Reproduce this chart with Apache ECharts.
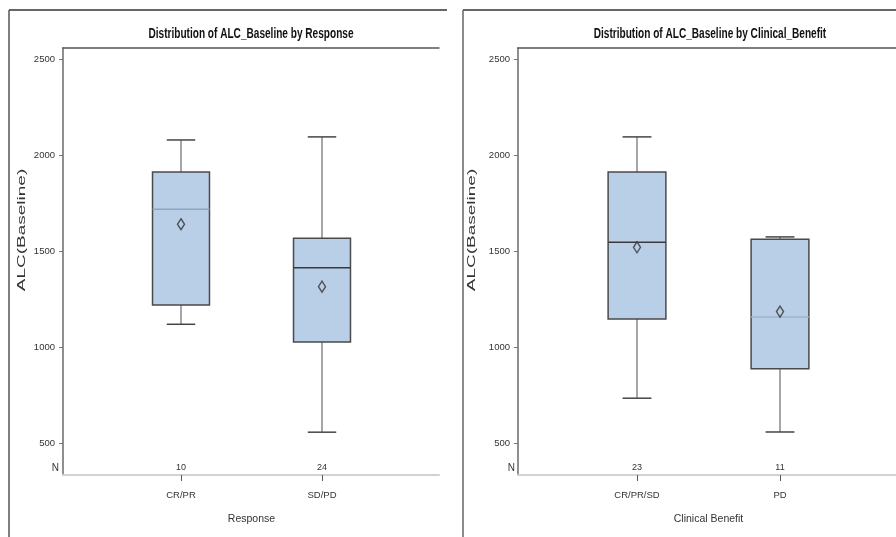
<!DOCTYPE html>
<html>
<head>
<meta charset="utf-8">
<script src="https://cdn.jsdelivr.net/npm/echarts@6/dist/echarts.min.js"></script>
<style>html,body{margin:0;padding:0;background:#fff}#c{width:896px;height:537px}</style>
</head>
<body>
<div id="c"></div>
<script>
// ---- data ----
const yTicks = [500, 1000, 1500, 2000, 2500];

const responseCats = ['CR/PR', 'SD/PD'];
const responseLow  = [1118, 556];
const responseQ1   = [1219, 1026];
const responseMed  = [1717, 1413];
const responseQ3   = [1911, 1566];
const responseHigh = [2078, 2094];
const responseMean = [1639, 1314];
const responseN    = [10, 24];

const benefitCats = ['CR/PR/SD', 'PD'];
const benefitLow  = [733, 557];
const benefitQ1   = [1146, 887];
const benefitMed  = [1545, 1156];
const benefitQ3   = [1911, 1561];
const benefitHigh = [2094, 1573];
const benefitMean = [1519, 1184];
const benefitN    = [23, 11];

// ---- styles ----
const SANS = "'Liberation Sans',Arial,sans-serif";
const YMIN = 333, YMAX = 2557;
const medianColorsResp = ['#8fa4c0', '#3a3a3a'];
const medianColorsBen  = ['#3a3a3a', '#9fb3cc'];

function boxData(low, q1, med, q3, high) {
  return low.map((v, i) => [i, v, q1[i], med[i], q3[i], high[i]]);
}
function makeRender(medColors) {
  return function (params, api) {
    const xi = api.value(0);
    const pLow = api.coord([xi, api.value(1)]);
    const pQ1 = api.coord([xi, api.value(2)]);
    const pMed = api.coord([xi, api.value(3)]);
    const pQ3 = api.coord([xi, api.value(4)]);
    const pHigh = api.coord([xi, api.value(5)]);
    const band = api.size([1, 0])[0];
    const hw = band * 0.202;
    const cx = pLow[0];
    const whisk = { stroke: '#8a8a8a', lineWidth: 1.5 };
    const cap = { stroke: '#454545', lineWidth: 1.5 };
    return {
      type: 'group',
      children: [
        { type: 'line', shape: { x1: cx, y1: pHigh[1], x2: cx, y2: pQ3[1] }, style: whisk },
        { type: 'line', shape: { x1: cx, y1: pQ1[1], x2: cx, y2: pLow[1] }, style: whisk },
        { type: 'line', shape: { x1: cx - hw / 2, y1: pHigh[1], x2: cx + hw / 2, y2: pHigh[1] }, style: cap },
        { type: 'line', shape: { x1: cx - hw / 2, y1: pLow[1], x2: cx + hw / 2, y2: pLow[1] }, style: cap },
        { type: 'rect', shape: { x: cx - hw, y: pQ3[1], width: 2 * hw, height: pQ1[1] - pQ3[1] },
          style: { fill: '#b9cfe8', stroke: '#4a4a4a', lineWidth: 1.5 } },
        { type: 'line', shape: { x1: cx - hw, y1: pMed[1], x2: cx + hw, y2: pMed[1] },
          style: { stroke: medColors[params.dataIndex], lineWidth: 1.5 } }
      ]
    };
  };
}

function frameAxes(gi) {
  return {
    x: [
      { gridIndex: gi, type: 'value', min: 0, max: 1, position: 'bottom',
        axisLine: { lineStyle: { color: '#d2d2d2', width: 2 } }, axisTick: { show: false },
        axisLabel: { show: false }, splitLine: { show: false } },
      { gridIndex: gi, type: 'value', min: 0, max: 1, position: 'top',
        axisLine: { lineStyle: { color: '#555', width: 1.5 } }, axisTick: { show: false },
        axisLabel: { show: false }, splitLine: { show: false } }
    ],
    y: [
      { gridIndex: gi, type: 'value', min: YMIN, max: YMAX, position: 'left',
        axisLine: { show: true, lineStyle: { color: '#888', width: 1.5 } },
        axisTick: { show: true, customValues: yTicks, length: 4, lineStyle: { color: '#777' } },
        axisLabel: { customValues: yTicks, margin: 8, fontFamily: SANS, fontSize: 9.5, color: '#333',
          formatter: (v) => String(v) },
        splitLine: { show: false } },
      { gridIndex: gi, type: 'value', min: YMIN, max: YMAX, position: 'right',
        axisLine: { show: true, lineStyle: { color: '#888', width: 1.5 } },
        axisTick: { show: false }, axisLabel: { show: false }, splitLine: { show: false } }
    ]
  };
}
function dataAxes(gi, cats, counts, name) {
  return {
    x: [
      { gridIndex: gi, type: 'category', data: cats, position: 'bottom',
        axisLine: { show: false },
        axisTick: { show: true, alignWithLabel: true, length: 6, lineStyle: { color: '#555' } },
        axisLabel: { margin: 15, fontFamily: SANS, fontSize: 9.5, color: '#333' },
        name: name, nameLocation: 'middle', nameGap: 39,
        nameTextStyle: { fontFamily: SANS, fontSize: 10.5, color: '#333' } },
      { gridIndex: gi, type: 'category', data: counts.map(String), position: 'bottom', offset: -12,
        axisLine: { show: false }, axisTick: { show: false },
        axisLabel: { margin: 0, fontFamily: SANS, fontSize: 9, color: '#333' } }
    ],
    y: [
      { gridIndex: gi, type: 'value', min: YMIN, max: YMAX, show: false }
    ]
  };
}

const fL = frameAxes(0), dL = dataAxes(1, responseCats, responseN, 'Response');
const fR = frameAxes(2), dR = dataAxes(3, benefitCats, benefitN, 'Clinical Benefit');

const meanStyle = { color: 'rgba(0,0,0,0)', borderColor: '#333', borderWidth: 1.5 };

const option = {
  animation: false,
  grid: [
    { left: 63, top: 48, width: 376, height: 427 },
    { left: 110.5, top: 48, width: 282, height: 427 },
    { left: 518, top: 48, width: 384, height: 427 },
    { left: 565.5, top: 48, width: 286, height: 427 }
  ],
  xAxis: [].concat(fL.x, dL.x, fR.x, dR.x),
  yAxis: [].concat(fL.y, dL.y, fR.y, dR.y),
  series: [
    { type: 'custom', xAxisIndex: 2, yAxisIndex: 2, renderItem: makeRender(medianColorsResp),
      encode: { x: 0, y: [1, 2, 3, 4, 5] },
      data: boxData(responseLow, responseQ1, responseMed, responseQ3, responseHigh) },
    { type: 'scatter', xAxisIndex: 2, yAxisIndex: 2, symbol: 'diamond', symbolSize: [7, 11],
      itemStyle: meanStyle, data: responseMean.map((v, i) => [i, v]) },
    { type: 'custom', xAxisIndex: 6, yAxisIndex: 5, renderItem: makeRender(medianColorsBen),
      encode: { x: 0, y: [1, 2, 3, 4, 5] },
      data: boxData(benefitLow, benefitQ1, benefitMed, benefitQ3, benefitHigh) },
    { type: 'scatter', xAxisIndex: 6, yAxisIndex: 5, symbol: 'diamond', symbolSize: [7, 11],
      itemStyle: meanStyle, data: benefitMean.map((v, i) => [i, v]) }
  ],
  graphic: [
    { type: 'line', shape: { x1: 9, y1: 10, x2: 447, y2: 10 }, style: { stroke: '#333', lineWidth: 1.5 } },
    { type: 'line', shape: { x1: 9, y1: 10, x2: 9, y2: 537 }, style: { stroke: '#555', lineWidth: 1.5 } },
    { type: 'line', shape: { x1: 463, y1: 10, x2: 896, y2: 10 }, style: { stroke: '#333', lineWidth: 1.5 } },
    { type: 'line', shape: { x1: 463, y1: 10, x2: 463, y2: 537 }, style: { stroke: '#666', lineWidth: 1.5 } },
    { type: 'text', x: 251, y: 34, scaleX: 0.72, style: { text: 'Distribution of ALC_Baseline by Response',
      font: "bold 14px " + SANS, fill: '#111', align: 'center', verticalAlign: 'middle' } },
    { type: 'text', x: 710, y: 34, scaleX: 0.72, style: { text: 'Distribution of ALC_Baseline by Clinical_Benefit',
      font: "bold 14px " + SANS, fill: '#111', align: 'center', verticalAlign: 'middle' } },
    { type: 'text', x: 22, y: 230, rotation: Math.PI / 2, scaleY: 0.55,
      style: { text: 'ALC(Baseline)', font: "19px " + SANS, fill: '#333',
        align: 'center', verticalAlign: 'middle' } },
    { type: 'text', x: 472, y: 230, rotation: Math.PI / 2, scaleY: 0.55,
      style: { text: 'ALC(Baseline)', font: "19px " + SANS, fill: '#333',
        align: 'center', verticalAlign: 'middle' } },
    { type: 'text', x: 59, y: 468, style: { text: 'N', font: "10px " + SANS, fill: '#333',
      align: 'right', verticalAlign: 'middle' } },
    { type: 'text', x: 515, y: 468, style: { text: 'N', font: "10px " + SANS, fill: '#333',
      align: 'right', verticalAlign: 'middle' } }
  ]
};

const chart = echarts.init(document.getElementById('c'), null, { renderer: 'canvas' });
chart.setOption(option);
</script>
</body>
</html>
